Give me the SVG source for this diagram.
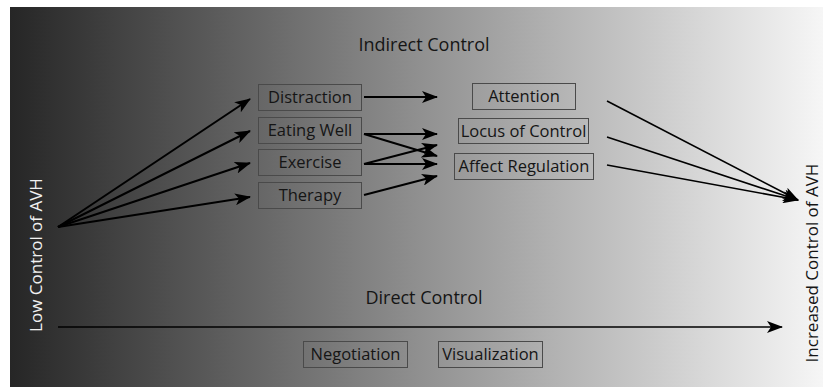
<svg xmlns="http://www.w3.org/2000/svg" width="823" height="387" viewBox="0 0 823 387">
  <defs>
    <linearGradient id="bg" x1="0" y1="0" x2="1" y2="0">
      <stop offset="0" stop-color="#262626"/>
      <stop offset="0.5" stop-color="#8f8f8f"/>
      <stop offset="1" stop-color="#f6f6f6"/>
    </linearGradient>
    <marker id="ah" markerUnits="userSpaceOnUse" viewBox="0 0 16 12" refX="15" refY="6" markerWidth="16" markerHeight="12" orient="auto">
      <path d="M0,0 L16,6 L0,12 L4,6 Z" fill="#000"/>
    </marker>
  </defs>
  <style>
    .box { fill: none; stroke: #4a4a4a; stroke-width: 1; }
    .lbl { font-family: "Open Sans", "Liberation Sans", sans-serif; font-size: 16.5px; fill: #151515; text-anchor: middle; }
    .title { font-family: "Open Sans", "Liberation Sans", sans-serif; font-size: 18px; fill: #151515; text-anchor: middle; }
    .side { font-family: "Open Sans", "Liberation Sans", sans-serif; font-size: 17px; text-anchor: middle; }
    .con { stroke: #000; stroke-width: 2; fill: none; marker-end: url(#ah); }
    .thin { stroke-width: 1.6; }
  </style>
  <rect x="0" y="0" width="823" height="387" fill="#fff"/>
  <rect x="10" y="7" width="813" height="380" fill="url(#bg)"/>

  <text class="title" x="424" y="51">Indirect Control</text>
  <text class="title" x="424" y="304">Direct Control</text>

  <g id="low">
    <text class="side" transform="translate(42,255) rotate(-90)" fill="#f2f2f2">Low Control of AVH</text>
  </g>
  <g id="increased">
    <text class="side" transform="translate(818,263) rotate(-90)" fill="#151515">Increased Control of AVH</text>
  </g>

  <g id="connectors">
    <line class="con" x1="58" y1="227" x2="250" y2="99"/>
    <line class="con" x1="58" y1="227" x2="250" y2="131"/>
    <line class="con" x1="58" y1="227" x2="250" y2="163"/>
    <line class="con" x1="58" y1="227" x2="250" y2="197"/>
    <line class="con" x1="364" y1="97" x2="437" y2="97"/>
    <line class="con" x1="364" y1="134" x2="437" y2="134"/>
    <line class="con" x1="364" y1="134" x2="437" y2="156"/>
    <line class="con" x1="364" y1="164" x2="437" y2="145"/>
    <line class="con" x1="364" y1="164" x2="437" y2="164"/>
    <line class="con" x1="364" y1="195" x2="437" y2="176"/>
    <line class="con thin" x1="607" y1="101" x2="798" y2="200"/>
    <line class="con thin" x1="607" y1="137" x2="798" y2="200"/>
    <line class="con thin" x1="607" y1="165" x2="798" y2="200"/>
    <line class="con thin" x1="58" y1="327" x2="782" y2="327"/>
  </g>

  <g id="distraction">
    <rect class="box" x="258.5" y="84.5" width="103" height="26"/>
    <text class="lbl" x="310" y="103">Distraction</text>
  </g>
  <g id="eating-well">
    <rect class="box" x="258.5" y="117.5" width="103" height="26"/>
    <text class="lbl" x="310" y="136">Eating Well</text>
  </g>
  <g id="exercise">
    <rect class="box" x="258.5" y="149.5" width="103" height="26"/>
    <text class="lbl" x="310" y="168">Exercise</text>
  </g>
  <g id="therapy">
    <rect class="box" x="258.5" y="182.5" width="103" height="26"/>
    <text class="lbl" x="310" y="201">Therapy</text>
  </g>
  <g id="attention">
    <rect class="box" x="472.5" y="83.5" width="103" height="26"/>
    <text class="lbl" x="524" y="102">Attention</text>
  </g>
  <g id="locus">
    <rect class="box" x="458.5" y="118.5" width="130" height="25"/>
    <text class="lbl" x="523.5" y="137">Locus of Control</text>
  </g>
  <g id="affect">
    <rect class="box" x="454.5" y="153.5" width="139" height="26"/>
    <text class="lbl" x="524" y="172">Affect Regulation</text>
  </g>
  <g id="negotiation">
    <rect class="box" x="303.5" y="341.5" width="104" height="26"/>
    <text class="lbl" x="355.5" y="360">Negotiation</text>
  </g>
  <g id="visualization">
    <rect class="box" x="438.5" y="341.5" width="104" height="26"/>
    <text class="lbl" x="490.5" y="360">Visualization</text>
  </g>
</svg>
